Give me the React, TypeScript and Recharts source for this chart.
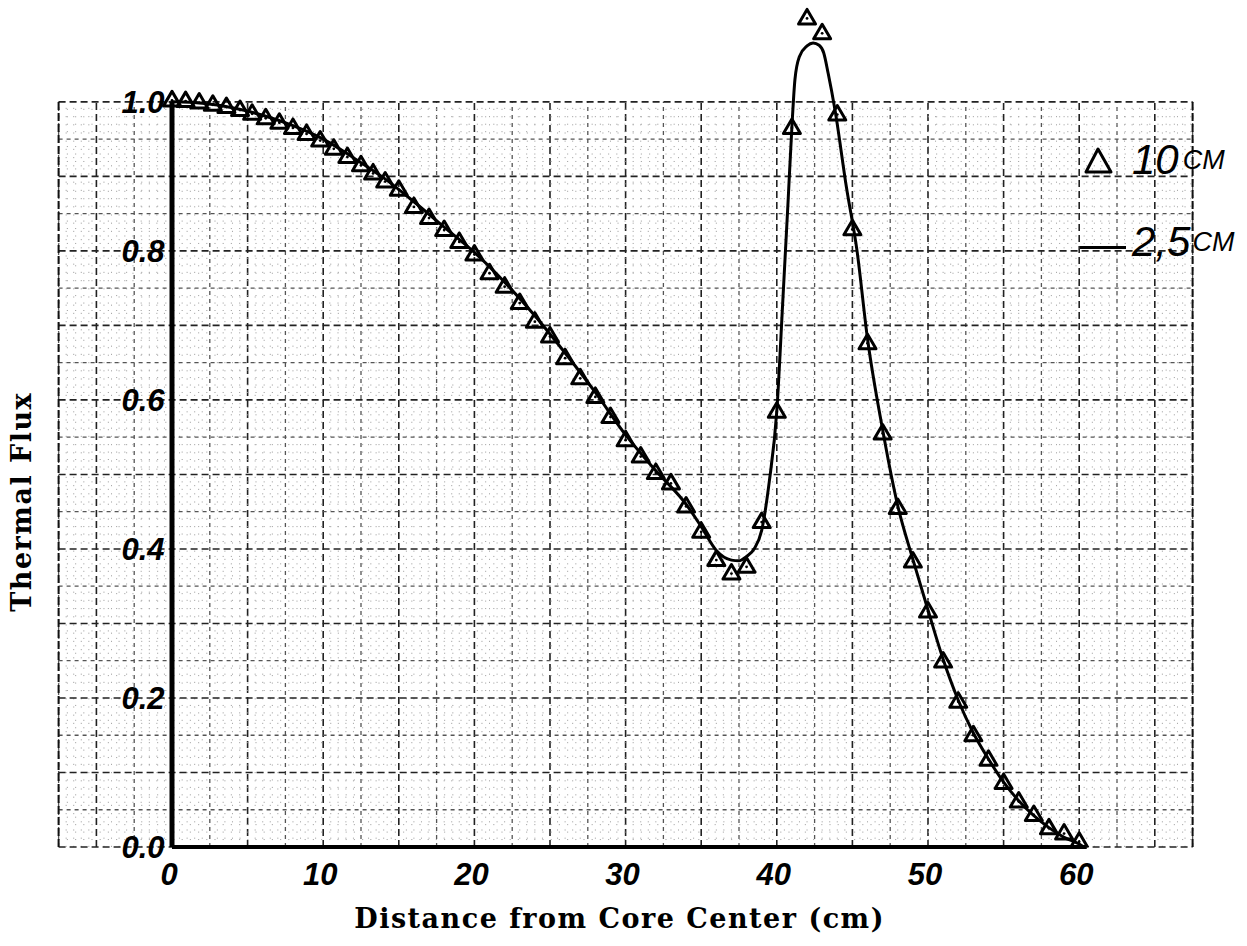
import React from "react";
import {
  ComposedChart,
  Line,
  Scatter,
  XAxis,
  YAxis,
  ReferenceLine,
  Legend,
  Label,
} from "recharts";

// 2.5 cm mesh curve (solid line)
const lineX = [
  0, 2, 4, 6, 8, 10, 12, 14, 16, 18, 20, 22, 24, 26, 28, 30, 32, 34, 35, 36,
  37, 37.5, 38, 38.5, 39, 39.5, 40, 40.4, 40.75, 41, 41.2, 41.5, 42, 42.4,
  42.8, 43.1, 43.4, 43.85, 44.6, 45.3, 46, 47, 48, 49, 50, 51, 52, 53, 54, 55,
  56, 57, 58, 59, 60, 60.3,
];
const lineY = [
  1.0, 0.998, 0.992, 0.982, 0.968, 0.95, 0.925, 0.898, 0.866, 0.832, 0.798,
  0.758, 0.713, 0.663, 0.61, 0.553, 0.505, 0.46, 0.43, 0.398, 0.385, 0.384,
  0.39, 0.4, 0.425, 0.49, 0.585, 0.734, 0.868, 0.967, 1.03, 1.061, 1.075,
  1.079, 1.076, 1.066, 1.038, 0.989, 0.886, 0.801, 0.682, 0.56, 0.458, 0.386,
  0.318, 0.252, 0.197, 0.153, 0.118, 0.087, 0.062, 0.042, 0.026, 0.013, 0.004,
  0,
];

// 10 cm mesh points (triangles)
const triX = [
  0, 0.9, 1.8, 2.7, 3.6, 4.5, 5.3, 6.2, 7.1, 8.0, 8.9, 9.8, 10.7, 11.6, 12.5,
  13.3, 14.1, 15, 16, 17, 18, 19, 20, 21, 22, 23, 24, 25, 26, 27, 28, 29, 30,
  31, 32, 33, 34, 35, 36, 37, 38, 39, 40, 41, 42, 43, 44, 45, 46, 47, 48, 49,
  50, 51, 52, 53, 54, 55, 56, 57, 58, 59, 60,
];
const triY = [
  1.002, 1.001, 0.999, 0.996, 0.993, 0.989, 0.984, 0.978, 0.972, 0.965, 0.957,
  0.948, 0.937, 0.926, 0.915, 0.904, 0.893, 0.882, 0.859, 0.844, 0.828, 0.812,
  0.795, 0.77, 0.752, 0.73, 0.705, 0.685, 0.656, 0.629, 0.604, 0.577, 0.546,
  0.524, 0.502, 0.488, 0.457, 0.423, 0.385, 0.367, 0.376, 0.436, 0.584, 0.965,
  1.112, 1.092, 0.983, 0.829, 0.676, 0.555, 0.455, 0.383, 0.316, 0.249, 0.195,
  0.15, 0.117, 0.086, 0.061, 0.043, 0.025, 0.018, 0.007,
];

const xTicks = [0, 10, 20, 30, 40, 50, 60];
const yTicks = [0, 0.2, 0.4, 0.6, 0.8, 1.0];

const lineData = lineX.map((x, i) => ({ x, y: lineY[i] }));
const triData = triX.map((x, i) => ({ x, y: triY[i] }));

// graph paper
const X_MIN = -7.5;
const X_MAX = 67.5;
const steps = (from: number, to: number, step: number) => {
  const out: number[] = [];
  const n = Math.round((to - from) / step);
  for (let i = 0; i <= n; i++) out.push(+(from + i * step).toFixed(3));
  return out;
};
const isMult = (v: number, m: number) =>
  Math.abs(v / m - Math.round(v / m)) < 1e-6;

const gridX = steps(X_MIN, X_MAX, 0.5);
const gridY = steps(0, 1, 0.01);

const gridStyle = (major: boolean, mid: boolean) => ({
  stroke: major ? "#222" : mid ? "#555" : "#aaa",
  strokeWidth: major ? 1.6 : mid ? 1.3 : 1,
  strokeDasharray: major ? "7 4" : mid ? "4 4" : "1.2 7",
});

const TICK_FONT = "'Liberation Sans', Arial, sans-serif";
const TITLE_FONT = "'DejaVu Serif', 'Liberation Serif', serif";
const HAND_FONT = "'Liberation Sans Narrow', 'Liberation Sans', sans-serif";

function Triangle(props: any) {
  const { cx, cy } = props;
  if (cx == null || cy == null) return null;
  return (
    <g>
      <polygon
        points={`${cx},${cy - 9} ${cx + 8.5},${cy + 5.5} ${cx - 8.5},${cy + 5.5}`}
        fill="none"
        stroke="#000"
        strokeWidth={3}
        strokeLinejoin="round"
      />
      <circle cx={cx} cy={cy} r={1.4} fill="#000" />
    </g>
  );
}

function YTitle(props: any) {
  const vb = props.viewBox || { x: 0, y: 0, width: 0, height: 0 };
  const cx = vb.x + 22;
  const cy = vb.y + vb.height * 0.59;
  return (
    <text
      x={cx}
      y={cy}
      transform={`rotate(-90 ${cx} ${cy})`}
      textAnchor="middle"
      dominantBaseline="central"
      fontFamily={TITLE_FONT}
      fontWeight="bold"
      fontSize={27}
      letterSpacing={1.5}
      fill="#000"
    >
      Thermal Flux
    </text>
  );
}

function LegendBox() {
  return (
    <div style={{ fontFamily: HAND_FONT, fontStyle: "italic", color: "#000" }}>
      <div style={{ display: "flex", alignItems: "center", height: 40 }}>
        <svg width={30} height={30} style={{ marginLeft: 4 }}>
          <polygon
            points="14,4 27,27 2,27"
            fill="none"
            stroke="#000"
            strokeWidth={3}
            strokeLinejoin="round"
          />
        </svg>
        <span style={{ fontSize: 42, marginLeft: 18, lineHeight: "40px" }}>
          10
        </span>
        <span style={{ fontSize: 27, marginLeft: 4, lineHeight: "40px" }}>
          CM
        </span>
      </div>
      <div
        style={{
          display: "flex",
          alignItems: "center",
          height: 40,
          marginTop: 42,
        }}
      >
        <div
          style={{ width: 46, height: 3, background: "#000", marginTop: 10 }}
        />
        <span style={{ fontSize: 42, marginLeft: 6, lineHeight: "40px" }}>
          2,5
        </span>
        <span style={{ fontSize: 27, marginLeft: 2, lineHeight: "40px" }}>
          CM
        </span>
      </div>
    </div>
  );
}

export default function App() {
  return (
    <div
      style={{
        position: "absolute",
        left: 0,
        top: 0,
        width: 1247,
        height: 946,
        background: "#fff",
      }}
    >
      <ComposedChart
        width={1247}
        height={946}
        margin={{ top: 5, right: 54.4, bottom: 0, left: 0 }}
      >
        {gridX.map((v) => {
          const major = isMult(v, 5);
          const mid = !major && isMult(v, 2.5);
          return (
            <ReferenceLine
              key={`gx${v}`}
              segment={[
                { x: v, y: 0 },
                { x: v, y: 1 },
              ]}
              {...gridStyle(major, mid)}
            />
          );
        })}
        {gridY.map((v) => {
          const major = isMult(v, 0.1);
          const mid = !major && isMult(v, 0.05);
          return (
            <ReferenceLine
              key={`gy${v}`}
              segment={[
                { x: X_MIN, y: v },
                { x: X_MAX, y: v },
              ]}
              {...gridStyle(major, mid)}
            />
          );
        })}
        <ReferenceLine
          segment={[
            { x: X_MIN, y: 0 },
            { x: X_MIN, y: 1 },
          ]}
          stroke="#111"
          strokeWidth={2}
          strokeDasharray="8 3"
        />
        <ReferenceLine
          segment={[
            { x: X_MAX, y: 0 },
            { x: X_MAX, y: 1 },
          ]}
          stroke="#111"
          strokeWidth={2}
          strokeDasharray="8 3"
        />
        {/* heavy axes */}
        <ReferenceLine
          segment={[
            { x: 0, y: 0 },
            { x: 0, y: 1 },
          ]}
          stroke="#000"
          strokeWidth={5}
        />
        <ReferenceLine
          segment={[
            { x: 0, y: 0 },
            { x: 60.5, y: 0 },
          ]}
          stroke="#000"
          strokeWidth={4}
        />

        <XAxis
          type="number"
          dataKey="x"
          domain={[X_MIN, X_MAX]}
          allowDataOverflow
          ticks={xTicks}
          height={99}
          axisLine={false}
          tickLine={false}
          tickSize={0}
          tickMargin={16}
          tick={{
            fontSize: 31,
            fontFamily: TICK_FONT,
            fontWeight: "bold",
            fontStyle: "italic",
            fill: "#000",
            dx: -3,
          }}
        >
          <Label
            value="Distance from Core Center (cm)"
            position="insideBottom"
            offset={18}
            dx={-6}
            style={{
              fontFamily: TITLE_FONT,
              fontWeight: "bold",
              fontSize: 27,
              letterSpacing: 1.5,
              fill: "#000",
            }}
          />
        </XAxis>
        <YAxis
          type="number"
          dataKey="y"
          domain={[0, 1.13]}
          allowDataOverflow
          ticks={yTicks}
          width={58.6}
          axisLine={false}
          tickLine={false}
          tickSize={0}
          tickMargin={0}
          tickFormatter={(v: number) => v.toFixed(1)}
          tick={{
            fontSize: 31,
            fontFamily: TICK_FONT,
            fontWeight: "bold",
            fontStyle: "italic",
            fill: "#000",
            dx: 106,
          }}
        >
          <Label content={<YTitle />} />
        </YAxis>

        <Legend
          layout="vertical"
          align="center"
          verticalAlign="middle"
          content={<LegendBox />}
          wrapperStyle={{ position: "absolute", left: 1080, top: 140, width: 167 }}
        />

        <Line
          data={lineData}
          dataKey="y"
          type="monotone"
          stroke="#000"
          strokeWidth={3}
          dot={false}
          activeDot={false}
          isAnimationActive={false}
          name="2,5 CM"
        />
        <Scatter
          data={triData}
          dataKey="y"
          shape={<Triangle />}
          isAnimationActive={false}
          name="10 CM"
        />
      </ComposedChart>
    </div>
  );
}
